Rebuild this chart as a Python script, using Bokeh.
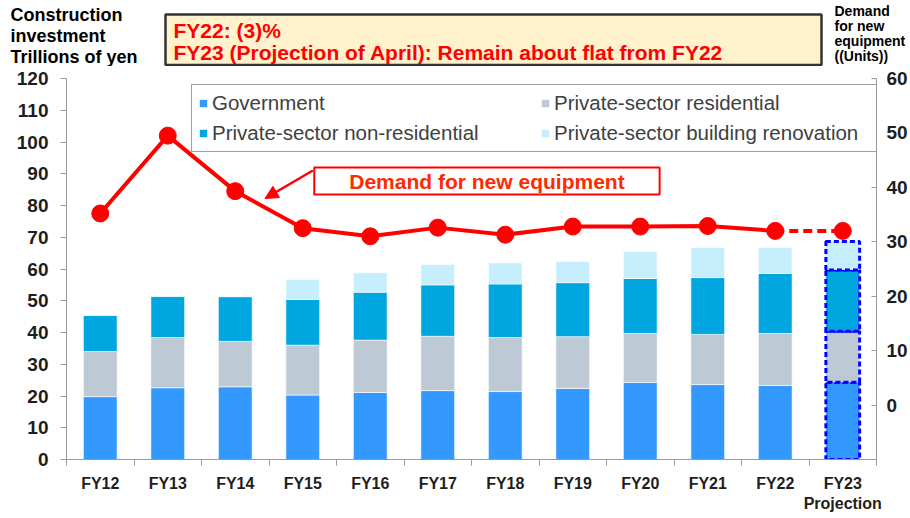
from bokeh.plotting import figure
from bokeh.layouts import column
from bokeh.models import (Range1d, LinearAxis, FixedTicker, Legend, LegendItem,
                          Label, Arrow, NormalHead, ColumnDataSource)
from bokeh.embed import file_html
from bokeh.resources import INLINE

# ---------------- data ----------------
years = ["FY12", "FY13", "FY14", "FY15", "FY16", "FY17", "FY18", "FY19",
         "FY20", "FY21", "FY22", "FY23"]
year_labels = years[:-1] + ["FY23\nProjection"]
government = [19.8, 22.6, 22.9, 20.3, 21.1, 21.7, 21.4, 22.4, 24.3, 23.6, 23.3, 24.3]
residential = [14.2, 15.8, 14.3, 15.7, 16.5, 17.1, 17.0, 16.3, 15.4, 15.8, 16.4, 16.1]
non_residential = [11.4, 13.0, 14.1, 14.4, 15.1, 16.2, 16.9, 17.0, 17.3, 17.9, 18.9, 19.3]
renovation = [0.0, 0.0, 0.0, 6.3, 6.1, 6.4, 6.6, 6.7, 8.5, 9.5, 8.2, 9.0]
demand = [35.2, 49.5, 39.3, 32.5, 31.0, 32.6, 31.3, 32.8, 32.8, 32.9, 32.0, 32.0]
left_ticks = list(range(0, 121, 10))
right_ticks = list(range(-10, 61, 10))
series_names = ["Government", "Private-sector residential",
                "Private-sector non-residential", "Private-sector building renovation"]
series_colors = ["#3399FF", "#BDC9D5", "#00A6E0", "#C7EEFC"]

xs = list(range(len(years)))
n_actual = len(years) - 1  # last one is the projection

stack_keys = ["gov", "res", "nonres", "ren"]
src_actual = ColumnDataSource(dict(x=xs[:n_actual], gov=government[:n_actual],
                                   res=residential[:n_actual], nonres=non_residential[:n_actual],
                                   ren=renovation[:n_actual]))
src_proj = ColumnDataSource(dict(x=xs[n_actual:], gov=government[n_actual:],
                                 res=residential[n_actual:], nonres=non_residential[n_actual:],
                                 ren=renovation[n_actual:]))

FONT = "Liberation Sans"
TXT = "#1E1E1E"
W = 910
TOP_H = 66
MAIN_H = 450

# ================= top strip (titles, note box) =================
top = figure(width=W, height=TOP_H, output_backend="svg", toolbar_location=None,
             x_range=Range1d(0, W), y_range=Range1d(TOP_H, 0),
             x_axis_location=None, y_axis_location=None, min_border=0)
top.frame_align = False
top.outline_line_color = None
top.grid.visible = False

top.quad(left=165, right=821, top=14, bottom=64.5, fill_color="#FFF2CC",
         line_color="#333333", line_width=2.5)
for txt, yy in [("FY22: (3)%", 30), ("FY23 (Projection of April): Remain about flat from FY22", 52)]:
    top.add_layout(Label(x=173, y=yy, text=txt, text_align="left", text_baseline="middle",
                         text_font=FONT, text_font_style="bold", text_font_size="21px",
                         text_color="#FF0000"))
for txt, yy in [("Construction", 14), ("investment", 35), ("Trillions of yen", 56)]:
    top.add_layout(Label(x=10, y=yy, text=txt, text_align="left", text_baseline="middle",
                         text_font=FONT, text_font_style="bold", text_font_size="18px",
                         text_color="#000000"))
for txt, yy in [("Demand", 10), ("for new", 25), ("equipment", 40), ("((Units))", 55)]:
    top.add_layout(Label(x=834, y=yy, text=txt, text_align="left", text_baseline="middle",
                         text_font=FONT, text_font_style="bold", text_font_size="14px",
                         text_color="#000000"))

# ================= main chart =================
p = figure(width=W, height=MAIN_H, output_backend="svg", toolbar_location=None,
           x_range=Range1d(-0.5, 11.5), y_range=Range1d(0, 120),
           min_border_left=66, min_border_right=32, min_border_top=12, min_border_bottom=57)
p.frame_align = False
p.outline_line_color = None
p.grid.visible = False

# ---- bars ----
r_actual = p.vbar_stack(stack_keys, x="x", width=0.5, source=src_actual,
                        color=series_colors, line_color="white", line_alpha=0.6, line_width=1)
p.vbar_stack(stack_keys, x="x", width=0.5, source=src_proj,
             fill_color=series_colors, line_color="#0000FF", line_dash="5 3", line_width=3)

# ---- demand line on right axis ----
p.extra_y_ranges = {"units": Range1d(-10, 60)}
p.line(xs[:n_actual], demand[:n_actual], y_range_name="units", line_color="#FF0000", line_width=4)
p.line(xs[n_actual - 1:], demand[n_actual - 1:], y_range_name="units", line_color="#FF0000",
       line_width=4, line_dash="9 5")
p.scatter(xs, demand, y_range_name="units", size=17, fill_color="#FF0000", line_color="#FF0000")

# ---- axes ----
yl = p.yaxis[0]
yl.ticker = FixedTicker(ticks=left_ticks)
yl.major_tick_out = 6
yl.major_tick_in = 0
yl.minor_tick_line_color = None
yl.axis_line_color = "#9A9A9A"
yl.major_tick_line_color = "#9A9A9A"
yl.major_label_standoff = 12
yl.major_label_text_font = FONT
yl.major_label_text_font_style = "bold"
yl.major_label_text_font_size = "19px"
yl.major_label_text_color = TXT

yr = LinearAxis(y_range_name="units", ticker=FixedTicker(ticks=right_ticks))
yr.major_label_overrides = {-10: ""}
yr.major_tick_out = 0
yr.major_tick_in = 5
yr.minor_tick_line_color = None
yr.axis_line_color = "#9A9A9A"
yr.major_tick_line_color = "#9A9A9A"
yr.major_label_standoff = 10
yr.major_label_text_font = FONT
yr.major_label_text_font_style = "bold"
yr.major_label_text_font_size = "19px"
yr.major_label_text_color = TXT
p.add_layout(yr, "right")

xa = p.xaxis[0]
xa.ticker = FixedTicker(ticks=xs, minor_ticks=[i - 0.5 for i in range(len(years) + 1)])
xa.major_label_overrides = {i: year_labels[i] for i in xs}
xa.major_tick_line_color = None
xa.major_tick_out = 0
xa.major_tick_in = 0
xa.minor_tick_line_color = "#9A9A9A"
xa.minor_tick_out = 6
xa.minor_tick_in = 0
xa.axis_line_color = "#9A9A9A"
xa.major_label_standoff = 9
xa.major_label_text_font = FONT
xa.major_label_text_font_style = "bold"
xa.major_label_text_font_size = "16px"
xa.major_label_text_color = TXT

# ---- legend (column-major fill: reorder so rows read Gov/Res, NonRes/Reno) ----
order = [0, 2, 1, 3]
items = [LegendItem(label=series_names[i], renderers=[r_actual[i]]) for i in order]
legend = Legend(items=items, ncols=2, location=(125, 307),
                border_line_color="#404040", border_line_width=1.5,
                background_fill_color="white", background_fill_alpha=1,
                label_text_font=FONT, label_text_font_size="20.5px", label_text_color="#404040",
                glyph_width=10, glyph_height=10, label_standoff=4, spacing=6,
                label_height=20, label_width=322, padding=6, margin=0)
p.add_layout(legend, "center")

# ---- callout ----
def px_x(px):
    return (px - 99.83) / 67.67

def px_y(py):
    return (459 - py) / 3.175

p.add_layout(Label(x=px_x(487.5), y=px_y(180.5), text="Demand for new equipment",
                   text_align="center", text_baseline="middle", text_font=FONT,
                   text_font_style="bold", text_font_size="21px", text_color="#FF2A00",
                   background_fill_color="white", border_line_color="#FF0000",
                   border_line_width=2, padding=(35, 35, 2, 2)))
p.add_layout(Arrow(end=NormalHead(size=13, fill_color="#FF0000", line_color="#FF0000"),
                   x_start=px_x(313), y_start=px_y(170), x_end=px_x(265), y_end=px_y(198),
                   line_color="#FF0000", line_width=2.5))

layout = column(top, p, spacing=0)
open("out.html", "w").write(file_html(layout, INLINE))
